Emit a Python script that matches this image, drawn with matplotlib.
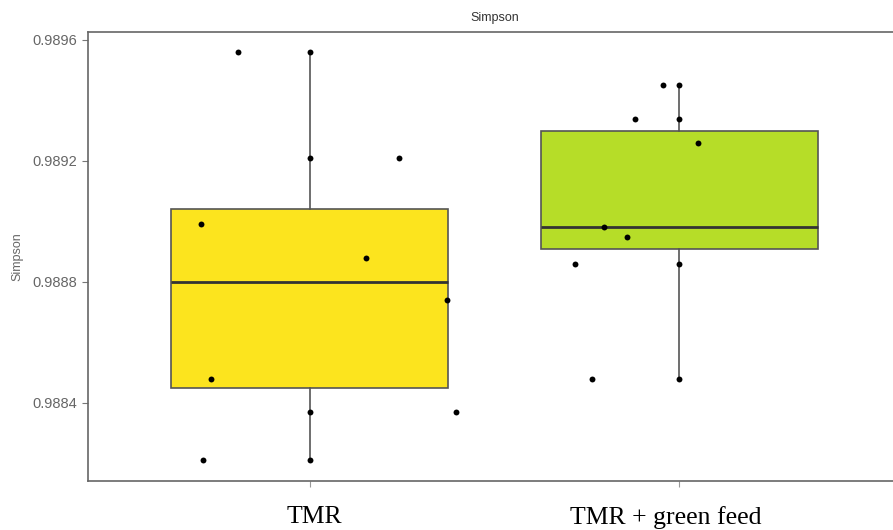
import matplotlib.pyplot as plt
import matplotlib.transforms as mtransforms
import numpy as np

groups = ["TMR", "TMR + green feed"]
colors = ["#FCE41E", "#B6DD28"]

# box statistics
q1 = [0.98845, 0.98891]
med = [0.98880, 0.98898]
q3 = [0.98904, 0.98930]
whislo = [0.98821, 0.98848]
whishi = [0.98956, 0.98945]

# jittered points (x offset from group centre, value)
tmr_dx = [-0.194, 0.0, 0.0, 0.242, -0.294, 0.153, 0.372, -0.267, 0.0, 0.396, -0.288, 0.0]
tmr_y = [0.98956, 0.98956, 0.98921, 0.98921, 0.98899, 0.98888, 0.98874, 0.98848,
         0.98837, 0.98837, 0.98821, 0.98821]
green_dx = [-0.043, 0.0, -0.119, 0.0, 0.051, -0.203, -0.141, -0.281, 0.0, -0.235, 0.0]
green_y = [0.98945, 0.98945, 0.98934, 0.98934, 0.98926, 0.98898, 0.98895, 0.98886,
           0.98886, 0.98848, 0.98848]

yticks = [0.9884, 0.9888, 0.9892, 0.9896]

fig = plt.figure(figsize=(8.93, 5.30), dpi=100)
ax = fig.add_axes([88 / 893, 49 / 530, 812.7 / 893, 449 / 530])

stats = []
for i in range(len(groups)):
    stats.append(dict(med=med[i], q1=q1[i], q3=q3[i], whislo=whislo[i],
                      whishi=whishi[i], fliers=[], label=groups[i]))

bp = ax.bxp(stats, positions=[1, 2], widths=0.75, patch_artist=True,
            showcaps=False, showfliers=False,
            boxprops=dict(edgecolor="#555555", linewidth=1.2),
            whiskerprops=dict(color="#555555", linewidth=1.2),
            medianprops=dict(color="#333333", linewidth=2))
for patch, c in zip(bp["boxes"], colors):
    patch.set_facecolor(c)
    patch.set_zorder(2)

ax.scatter(1 + np.array(tmr_dx), tmr_y, s=18, color="black", zorder=3, linewidths=0)
ax.scatter(2 + np.array(green_dx), green_y, s=18, color="black", zorder=3, linewidths=0)

ax.set_xlim(0.4, 2.6)
ax.set_ylim(0.988142, 0.989626)
ax.set_yticks(yticks)
ax.set_yticklabels(["%.4f" % v for v in yticks])
ax.set_xticks([1, 2])
ax.set_xticklabels(groups, family="Liberation Serif", fontsize=18.5, color="black")

ax.tick_params(axis="y", colors="#777777", labelcolor="#666666", labelsize=10.5,
               length=4, width=0.8)
ax.tick_params(axis="x", colors="#999999", labelcolor="black", length=4, width=0.8, pad=14)
for s in ax.spines.values():
    s.set_color("#666666")
    s.set_linewidth(1.2)

# the group labels sit slightly off the tick centres in the original
for lab, dx in zip(ax.get_xticklabels(), [5, -13]):
    lab.set_transform(lab.get_transform() +
                      mtransforms.ScaledTranslation(dx / 100, 0, fig.dpi_scale_trans))

for lab in ax.get_yticklabels():
    lab.set_family("Liberation Sans")

ax.set_ylabel("Simpson", family="Liberation Sans", fontsize=9, color="#666666", labelpad=7)
ax.set_title("Simpson", family="Liberation Sans", fontsize=9, color="#333333", pad=8)

fig.savefig("out.png", dpi=100)
